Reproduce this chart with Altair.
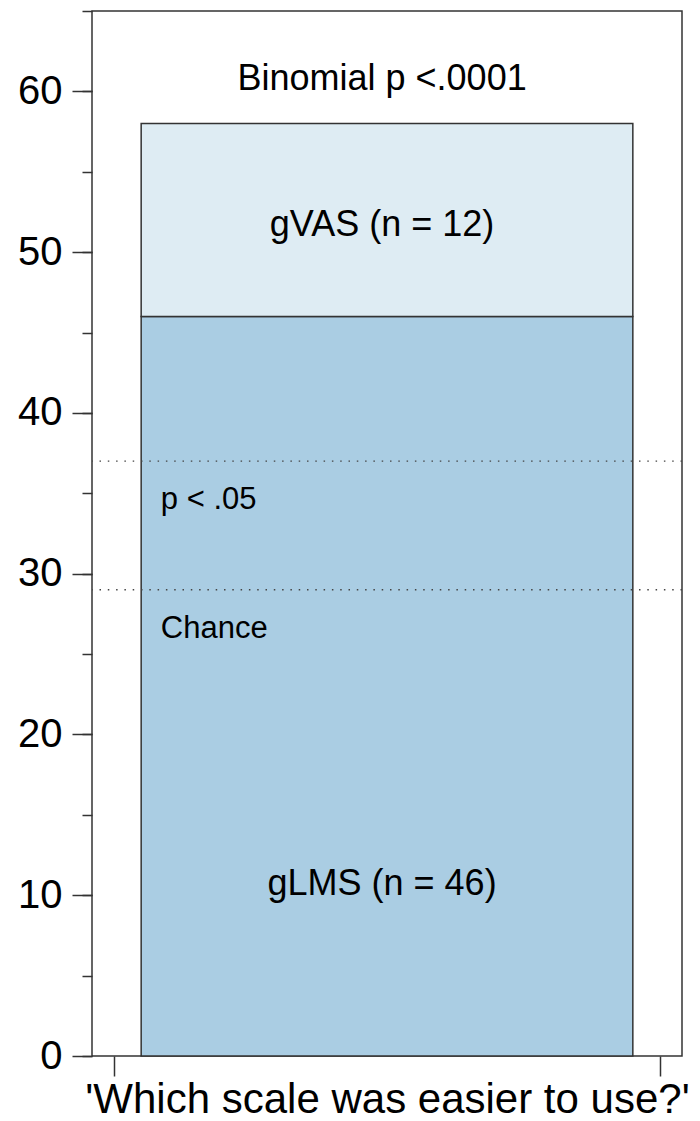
import altair as alt
import pandas as pd

# ---- data -------------------------------------------------------------
groups = ["gLMS", "gVAS"]
counts = [46, 12]
bar_colors = ["#aacde3", "#deecf3"]
bar_left = [0.5, 0.5]
bar_right = [1.5, 1.5]

x_domain = [0.4, 1.6]
x_tick_values = [0.445, 1.555]
y_domain = [0, 65]
y_major = [0, 10, 20, 30, 40, 50, 60]
y_minor = [0, 5, 10, 15, 20, 25, 30, 35, 40, 45, 50, 55, 60, 65]

threshold_names = ["Chance", "p < .05"]
threshold_values = [29, 37]

center_texts = ["Binomial p <.0001", "gVAS (n = 12)", "gLMS (n = 46)"]
center_x = [0.99, 0.99, 0.99]
center_y = [60.1, 51.0, 10.0]

side_texts = ["p < .05", "Chance"]
side_x = [0.54, 0.54]
side_y = [34.0, 26.0]

x_title = "'Which scale was easier to use?'"

FONT = "Liberation Sans"
LINE = "#333333"

# ---- tables -------------------------------------------------------------
starts = []
acc = 0
for c in counts:
    starts.append(acc)
    acc += c
bars_df = pd.DataFrame({
    "group": groups,
    "x1": bar_left,
    "x2": bar_right,
    "y1": starts,
    "y2": [s + c for s, c in zip(starts, counts)],
})
thr_df = pd.DataFrame({"name": threshold_names, "y": threshold_values})
center_df = pd.DataFrame({"label": center_texts, "x1": center_x, "y1": center_y})
side_df = pd.DataFrame({"label": side_texts, "x1": side_x, "y1": side_y})

xscale = alt.Scale(domain=x_domain, nice=False, zero=False)
yscale = alt.Scale(domain=y_domain, nice=False, zero=False)

xaxis = alt.Axis(
    values=x_tick_values, labels=False, domain=False, grid=False,
    tickSize=20, tickColor=LINE, tickWidth=1.5,
    title=x_title, titleFont=FONT, titleFontSize=42, titleFontWeight="normal",
    titleColor="black", titlePadding=3,
)
y_major_axis = alt.Axis(
    values=y_major, domain=False, grid=False, orient="left",
    tickSize=20, tickColor=LINE, tickWidth=1.5,
    labelFont=FONT, labelFontSize=40, labelColor="black", labelPadding=10,
    title=None,
)
y_minor_axis = alt.Axis(
    values=y_minor, domain=False, grid=False, orient="left", labels=False,
    tickSize=10, tickColor=LINE, tickWidth=1.5, title=None,
)

bars = alt.Chart(bars_df).mark_rect(stroke=LINE, strokeWidth=1.5).encode(
    x=alt.X("x1:Q", scale=xscale, axis=xaxis),
    x2="x2:Q",
    y=alt.Y("y1:Q", scale=yscale, axis=y_major_axis),
    y2="y2:Q",
    color=alt.Color("group:N", scale=alt.Scale(domain=groups, range=bar_colors), legend=None),
)

rules = alt.Chart(thr_df).mark_rule(
    color="#444444", strokeWidth=1.3, strokeDash=[1.5, 6.8]
).encode(
    y=alt.Y("y:Q", scale=yscale, axis=y_minor_axis),
)

center_text = alt.Chart(center_df).mark_text(
    font=FONT, fontSize=36, color="black", align="center", baseline="alphabetic"
).encode(
    x=alt.X("x1:Q", scale=xscale, axis=xaxis),
    y=alt.Y("y1:Q", scale=yscale, axis=None),
    text="label:N",
)

side_text = alt.Chart(side_df).mark_text(
    font=FONT, fontSize=31, color="black", align="left", baseline="alphabetic"
).encode(
    x=alt.X("x1:Q", scale=xscale, axis=xaxis),
    y=alt.Y("y1:Q", scale=yscale, axis=None),
    text="label:N",
)

chart = (
    alt.layer(bars, rules, center_text, side_text)
    .resolve_axis(y="independent")
    .properties(
        width=590,
        height=1045,
        autosize=alt.AutoSizeParams(type="none"),
        padding={"left": 92, "top": 11, "right": 18, "bottom": 65},
        background="white",
    )
    .configure_view(stroke=LINE, strokeWidth=1.5)
)

chart.save("out.html", embed_options={"renderer": "svg", "actions": False})
